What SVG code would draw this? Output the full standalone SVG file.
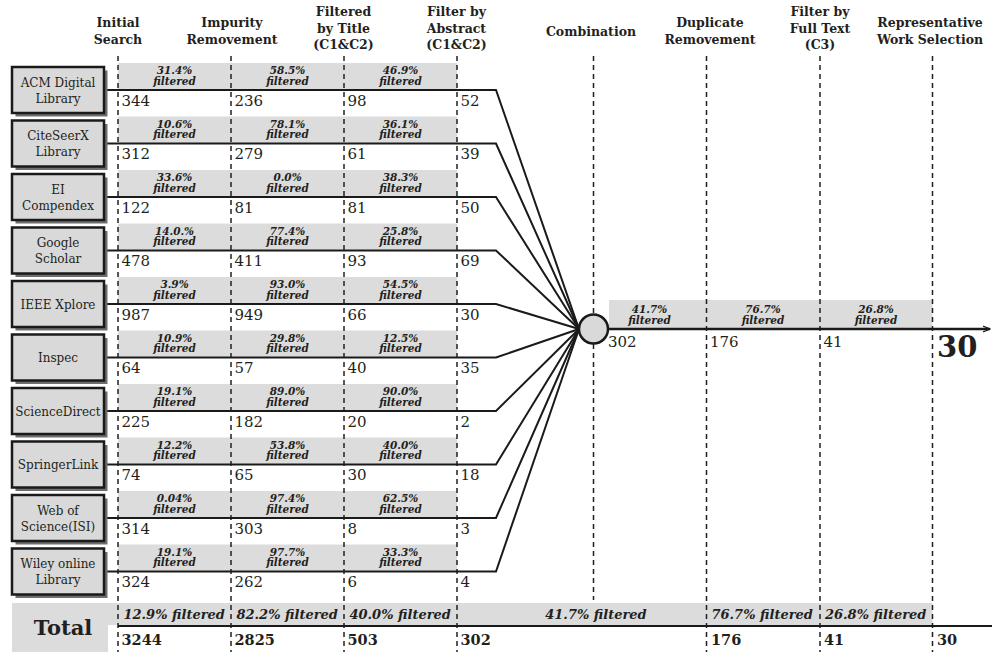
<svg xmlns="http://www.w3.org/2000/svg" width="992" height="652" viewBox="0 0 992 652">
<defs>
<style>
.bg{fill:#ffffff}
.band{fill:#dcdcdc}
.dash{stroke:#231f20;stroke-width:1.5;stroke-dasharray:5,4;fill:none}
.hdr{font-family:"DejaVu Serif",serif;font-weight:bold;font-size:12.5px;fill:#231f20;text-anchor:middle}
.lbl{font-family:"DejaVu Serif",serif;font-size:12px;fill:#231f20;text-anchor:middle}
.pct{font-family:"DejaVu Serif",serif;font-weight:bold;font-style:italic;font-size:10.5px;fill:#231f20;text-anchor:middle}
.num{font-family:"DejaVu Serif",serif;font-size:15px;fill:#231f20}
.tpct{font-family:"DejaVu Serif",serif;font-weight:bold;font-style:italic;font-size:13px;fill:#231f20}
.tnum{font-family:"DejaVu Serif",serif;font-weight:bold;font-size:14.5px;fill:#231f20}
.box{fill:#d9d9d9;stroke:#1a1a1a;stroke-width:2.5}
.shadow{fill:#6e6e6e}
.conn{stroke:#1a1a1a;stroke-width:2;fill:none}
.main{stroke:#1a1a1a;stroke-width:2.5;fill:none}
</style>
<marker id="arr" markerWidth="8" markerHeight="8" refX="7" refY="4" orient="auto" markerUnits="userSpaceOnUse">
<path d="M0,1 L7,4 L0,7" fill="none" stroke="#1a1a1a" stroke-width="1.2"/>
</marker>
</defs>
<rect class="bg" x="0" y="0" width="992" height="652"/>

<!-- gray bands -->
<g id="bands">
<rect class="band" x="118" y="63" width="339" height="27"/>
<rect class="band" x="118" y="116.5" width="339" height="27"/>
<rect class="band" x="118" y="170" width="339" height="27"/>
<rect class="band" x="118" y="223.5" width="339" height="27"/>
<rect class="band" x="118" y="277" width="339" height="27"/>
<rect class="band" x="118" y="330.5" width="339" height="27"/>
<rect class="band" x="118" y="384" width="339" height="27"/>
<rect class="band" x="118" y="437.5" width="339" height="27"/>
<rect class="band" x="118" y="491" width="339" height="27"/>
<rect class="band" x="118" y="544.5" width="339" height="27"/>
<rect class="band" x="609" y="300" width="323.5" height="29"/>
<rect class="band" x="12" y="603" width="920.5" height="22"/>
<rect class="band" x="12" y="603" width="96" height="49"/>
</g>

<!-- dashed stage lines -->
<g id="stage-lines">
<line class="dash" x1="118" y1="56" x2="118" y2="652"/>
<line class="dash" x1="231" y1="56" x2="231" y2="652"/>
<line class="dash" x1="344" y1="56" x2="344" y2="652"/>
<line class="dash" x1="457" y1="56" x2="457" y2="652"/>
<line class="dash" x1="593.5" y1="56" x2="593.5" y2="600"/>
<line class="dash" x1="706.5" y1="56" x2="706.5" y2="652"/>
<line class="dash" x1="820" y1="56" x2="820" y2="652"/>
<line class="dash" x1="932.5" y1="56" x2="932.5" y2="652"/>
</g>

<!-- headers -->
<g id="headers">
<text class="hdr" x="118" y="27">Initial</text>
<text class="hdr" x="118" y="43.5">Search</text>
<text class="hdr" x="232" y="27">Impurity</text>
<text class="hdr" x="232" y="43.5">Removement</text>
<text class="hdr" x="343.5" y="16">Filtered</text>
<text class="hdr" x="343.5" y="32.5">by Title</text>
<text class="hdr" x="343.5" y="48.5">(C1&amp;C2)</text>
<text class="hdr" x="456.5" y="16">Filter by</text>
<text class="hdr" x="456.5" y="32.5">Abstract</text>
<text class="hdr" x="456.5" y="48.5">(C1&amp;C2)</text>
<text class="hdr" x="591" y="36">Combination</text>
<text class="hdr" x="710" y="27">Duplicate</text>
<text class="hdr" x="710" y="43.5">Removement</text>
<text class="hdr" x="820" y="16">Filter by</text>
<text class="hdr" x="820" y="32.5">Full Text</text>
<text class="hdr" x="820" y="48.5">(C3)</text>
<text class="hdr" x="930" y="27">Representative</text>
<text class="hdr" x="930" y="43.5">Work Selection</text>
</g>

<!-- connectors -->
<g id="connectors">
<polyline class="conn" points="104,90 496,90 579,329"/>
<polyline class="conn" points="104,143.5 496,143.5 579,329"/>
<polyline class="conn" points="104,197 496,197 579,329"/>
<polyline class="conn" points="104,250.5 496,250.5 579,329"/>
<polyline class="conn" points="104,304 496,304 579,329"/>
<polyline class="conn" points="104,357.5 496,357.5 579,329"/>
<polyline class="conn" points="104,411 496,411 579,329"/>
<polyline class="conn" points="104,464.5 496,464.5 579,329"/>
<polyline class="conn" points="104,518 496,518 579,329"/>
<polyline class="conn" points="104,571.5 496,571.5 579,329"/>
<line class="main" x1="608" y1="329" x2="990" y2="329" marker-end="url(#arr)"/>
<line class="conn" x1="118" y1="626" x2="992" y2="626"/>
</g>

<!-- source nodes -->
<g id="node-acm">
<rect class="shadow" x="15.5" y="70.5" width="92" height="46"/>
<rect class="box" x="12" y="67" width="92" height="46"/>
<text class="lbl" x="58" y="86.5">ACM Digital</text>
<text class="lbl" x="58" y="102.5">Library</text>
</g>
<g id="node-citeseerx">
<rect class="shadow" x="15.5" y="124" width="92" height="46"/>
<rect class="box" x="12" y="120.5" width="92" height="46"/>
<text class="lbl" x="58" y="140">CiteSeerX</text>
<text class="lbl" x="58" y="156">Library</text>
</g>
<g id="node-ei">
<rect class="shadow" x="15.5" y="177.5" width="92" height="46"/>
<rect class="box" x="12" y="174" width="92" height="46"/>
<text class="lbl" x="58" y="193.5">EI</text>
<text class="lbl" x="58" y="209.5">Compendex</text>
</g>
<g id="node-google">
<rect class="shadow" x="15.5" y="231" width="92" height="46"/>
<rect class="box" x="12" y="227.5" width="92" height="46"/>
<text class="lbl" x="58" y="247">Google</text>
<text class="lbl" x="58" y="263">Scholar</text>
</g>
<g id="node-ieee">
<rect class="shadow" x="15.5" y="284.5" width="92" height="46"/>
<rect class="box" x="12" y="281" width="92" height="46"/>
<text class="lbl" x="58" y="308.5">IEEE Xplore</text>
</g>
<g id="node-inspec">
<rect class="shadow" x="15.5" y="338" width="92" height="46"/>
<rect class="box" x="12" y="334.5" width="92" height="46"/>
<text class="lbl" x="58" y="362">Inspec</text>
</g>
<g id="node-sciencedirect">
<rect class="shadow" x="15.5" y="391.5" width="92" height="46"/>
<rect class="box" x="12" y="388" width="92" height="46"/>
<text class="lbl" x="58" y="415.5">ScienceDirect</text>
</g>
<g id="node-springerlink">
<rect class="shadow" x="15.5" y="445" width="92" height="46"/>
<rect class="box" x="12" y="441.5" width="92" height="46"/>
<text class="lbl" x="58" y="469">SpringerLink</text>
</g>
<g id="node-wos">
<rect class="shadow" x="15.5" y="498.5" width="92" height="46"/>
<rect class="box" x="12" y="495" width="92" height="46"/>
<text class="lbl" x="58" y="514.5">Web of</text>
<text class="lbl" x="58" y="530.5">Science(ISI)</text>
</g>
<g id="node-wiley">
<rect class="shadow" x="15.5" y="552" width="92" height="46"/>
<rect class="box" x="12" y="548.5" width="92" height="46"/>
<text class="lbl" x="58" y="568">Wiley online</text>
<text class="lbl" x="58" y="584">Library</text>
</g>

<!-- combination node -->
<g id="node-combination">
<circle cx="593.5" cy="329" r="14.5" fill="#d9d9d9" stroke="#1a1a1a" stroke-width="2.5"/>
</g>

<!-- row percentages -->
<g id="row-percentages">
<text class="pct" x="174.5" y="74">31.4%</text><text class="pct" x="174.5" y="84.5">filtered</text>
<text class="pct" x="287.5" y="74">58.5%</text><text class="pct" x="287.5" y="84.5">filtered</text>
<text class="pct" x="400.5" y="74">46.9%</text><text class="pct" x="400.5" y="84.5">filtered</text>

<text class="pct" x="174.5" y="127.5">10.6%</text><text class="pct" x="174.5" y="138">filtered</text>
<text class="pct" x="287.5" y="127.5">78.1%</text><text class="pct" x="287.5" y="138">filtered</text>
<text class="pct" x="400.5" y="127.5">36.1%</text><text class="pct" x="400.5" y="138">filtered</text>

<text class="pct" x="174.5" y="181">33.6%</text><text class="pct" x="174.5" y="191.5">filtered</text>
<text class="pct" x="287.5" y="181">0.0%</text><text class="pct" x="287.5" y="191.5">filtered</text>
<text class="pct" x="400.5" y="181">38.3%</text><text class="pct" x="400.5" y="191.5">filtered</text>

<text class="pct" x="174.5" y="234.5">14.0.%</text><text class="pct" x="174.5" y="245">filtered</text>
<text class="pct" x="287.5" y="234.5">77.4%</text><text class="pct" x="287.5" y="245">filtered</text>
<text class="pct" x="400.5" y="234.5">25.8%</text><text class="pct" x="400.5" y="245">filtered</text>

<text class="pct" x="174.5" y="288">3.9%</text><text class="pct" x="174.5" y="298.5">filtered</text>
<text class="pct" x="287.5" y="288">93.0%</text><text class="pct" x="287.5" y="298.5">filtered</text>
<text class="pct" x="400.5" y="288">54.5%</text><text class="pct" x="400.5" y="298.5">filtered</text>

<text class="pct" x="174.5" y="341.5">10.9%</text><text class="pct" x="174.5" y="352">filtered</text>
<text class="pct" x="287.5" y="341.5">29.8%</text><text class="pct" x="287.5" y="352">filtered</text>
<text class="pct" x="400.5" y="341.5">12.5%</text><text class="pct" x="400.5" y="352">filtered</text>

<text class="pct" x="174.5" y="395">19.1%</text><text class="pct" x="174.5" y="405.5">filtered</text>
<text class="pct" x="287.5" y="395">89.0%</text><text class="pct" x="287.5" y="405.5">filtered</text>
<text class="pct" x="400.5" y="395">90.0%</text><text class="pct" x="400.5" y="405.5">filtered</text>

<text class="pct" x="174.5" y="448.5">12.2%</text><text class="pct" x="174.5" y="459">filtered</text>
<text class="pct" x="287.5" y="448.5">53.8%</text><text class="pct" x="287.5" y="459">filtered</text>
<text class="pct" x="400.5" y="448.5">40.0%</text><text class="pct" x="400.5" y="459">filtered</text>

<text class="pct" x="174.5" y="502">0.04%</text><text class="pct" x="174.5" y="512.5">filtered</text>
<text class="pct" x="287.5" y="502">97.4%</text><text class="pct" x="287.5" y="512.5">filtered</text>
<text class="pct" x="400.5" y="502">62.5%</text><text class="pct" x="400.5" y="512.5">filtered</text>

<text class="pct" x="174.5" y="555.5">19.1%</text><text class="pct" x="174.5" y="566">filtered</text>
<text class="pct" x="287.5" y="555.5">97.7%</text><text class="pct" x="287.5" y="566">filtered</text>
<text class="pct" x="400.5" y="555.5">33.3%</text><text class="pct" x="400.5" y="566">filtered</text>

<text class="pct" x="649.5" y="313">41.7%</text><text class="pct" x="649.5" y="323.5">filtered</text>
<text class="pct" x="763" y="313">76.7%</text><text class="pct" x="763" y="323.5">filtered</text>
<text class="pct" x="876" y="313">26.8%</text><text class="pct" x="876" y="323.5">filtered</text>
</g>

<!-- row counts -->
<g id="row-counts">
<text class="num" x="121.5" y="105.5">344</text><text class="num" x="234.5" y="105.5">236</text><text class="num" x="347.5" y="105.5">98</text><text class="num" x="460.5" y="105.5">52</text>
<text class="num" x="121.5" y="159">312</text><text class="num" x="234.5" y="159">279</text><text class="num" x="347.5" y="159">61</text><text class="num" x="460.5" y="159">39</text>
<text class="num" x="121.5" y="212.5">122</text><text class="num" x="234.5" y="212.5">81</text><text class="num" x="347.5" y="212.5">81</text><text class="num" x="460.5" y="212.5">50</text>
<text class="num" x="121.5" y="266">478</text><text class="num" x="234.5" y="266">411</text><text class="num" x="347.5" y="266">93</text><text class="num" x="460.5" y="266">69</text>
<text class="num" x="121.5" y="319.5">987</text><text class="num" x="234.5" y="319.5">949</text><text class="num" x="347.5" y="319.5">66</text><text class="num" x="460.5" y="319.5">30</text>
<text class="num" x="121.5" y="373">64</text><text class="num" x="234.5" y="373">57</text><text class="num" x="347.5" y="373">40</text><text class="num" x="460.5" y="373">35</text>
<text class="num" x="121.5" y="426.5">225</text><text class="num" x="234.5" y="426.5">182</text><text class="num" x="347.5" y="426.5">20</text><text class="num" x="460.5" y="426.5">2</text>
<text class="num" x="121.5" y="480">74</text><text class="num" x="234.5" y="480">65</text><text class="num" x="347.5" y="480">30</text><text class="num" x="460.5" y="480">18</text>
<text class="num" x="121.5" y="533.5">314</text><text class="num" x="234.5" y="533.5">303</text><text class="num" x="347.5" y="533.5">8</text><text class="num" x="460.5" y="533.5">3</text>
<text class="num" x="121.5" y="587">324</text><text class="num" x="234.5" y="587">262</text><text class="num" x="347.5" y="587">6</text><text class="num" x="460.5" y="587">4</text>
<text class="num" x="608" y="347">302</text>
<text class="num" x="710" y="347">176</text>
<text class="num" x="823.5" y="347">41</text>
<text x="937" y="357" style="font-family:'DejaVu Serif',serif;font-weight:bold;font-size:29px;fill:#231f20">30</text>
</g>

<!-- total row -->
<g id="total-row">
<text x="63" y="635" style="font-family:'DejaVu Serif',serif;font-weight:bold;font-size:21px;fill:#231f20;text-anchor:middle">Total</text>
<text class="tpct" x="123.5" y="619">12.9% filtered</text>
<text class="tpct" x="236.5" y="619">82.2% filtered</text>
<text class="tpct" x="349.5" y="619">40.0% filtered</text>
<text class="tpct" x="596" y="619" text-anchor="middle">41.7% filtered</text>
<text class="tpct" x="711.5" y="619">76.7% filtered</text>
<text class="tpct" x="825" y="619">26.8% filtered</text>
<text class="tnum" x="121.5" y="645">3244</text>
<text class="tnum" x="234.5" y="645">2825</text>
<text class="tnum" x="347.5" y="645">503</text>
<text class="tnum" x="460.5" y="645">302</text>
<text class="tnum" x="711" y="645">176</text>
<text class="tnum" x="824" y="645">41</text>
<text class="tnum" x="937" y="645">30</text>
</g>
</svg>
